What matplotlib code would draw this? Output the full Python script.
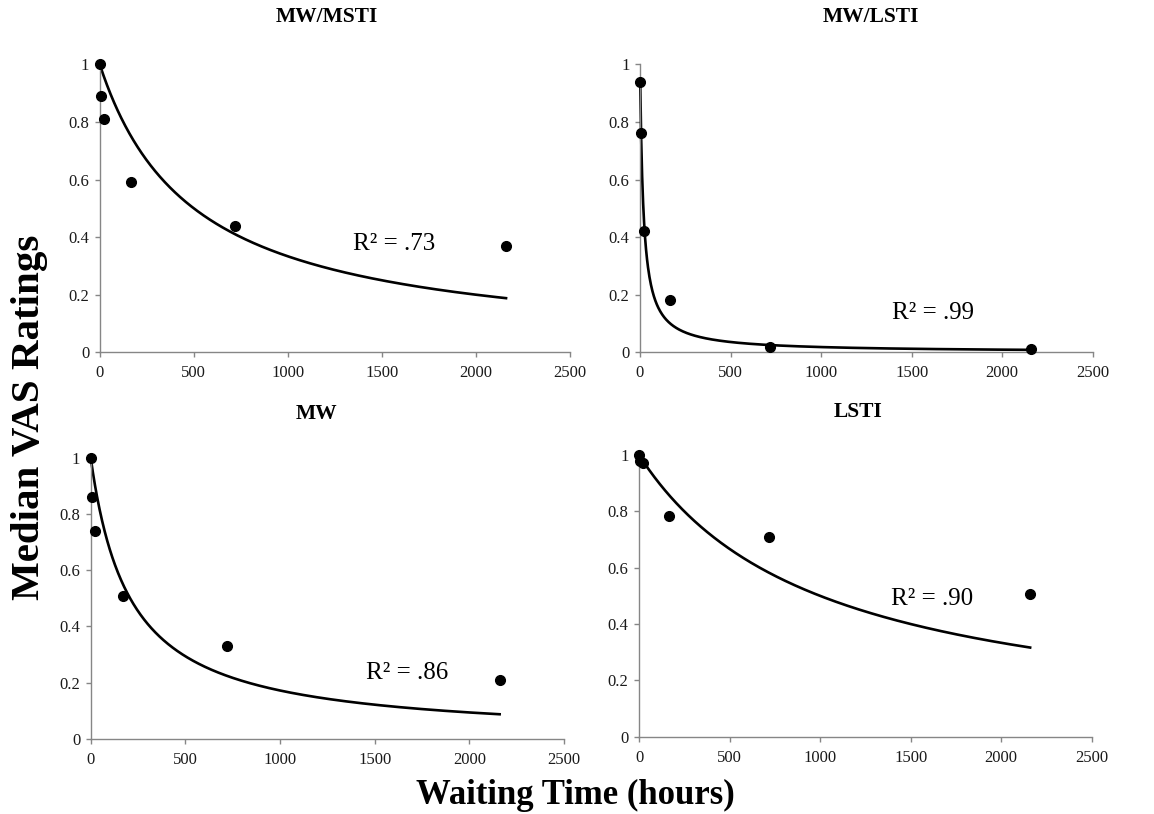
import numpy as np
import matplotlib
matplotlib.use("Agg")
import matplotlib.pyplot as plt
from matplotlib.ticker import FormatStrFormatter

plt.rcParams['font.family'] = ['Liberation Serif', 'DejaVu Serif']

# ---- data ----
delays = [1, 6, 24, 168, 720, 2160]  # hours
panel_titles = ["MW/MSTI", "MW/LSTI", "MW", "LSTI"]
mw_msti = [1.00, 0.89, 0.81, 0.59, 0.44, 0.37]
mw_lsti = [0.94, 0.76, 0.42, 0.18, 0.02, 0.01]
mw = [1.00, 0.86, 0.74, 0.51, 0.33, 0.21]
lsti = [1.00, 0.98, 0.97, 0.785, 0.71, 0.505]
# hyperbolic fit parameters (V = 1 / (1 + k * D))
k_values = [0.0020, 0.054, 0.0048, 0.00100]
r2_labels = ["R² = .73", "R² = .99", "R² = .86", "R² = .90"]
x_ticks = [0, 500, 1000, 1500, 2000, 2500]
y_ticks = [0, 0.2, 0.4, 0.6, 0.8, 1.0]

series = [mw_msti, mw_lsti, mw, lsti]

W, H = 1154, 814
fig = plt.figure(figsize=(W / 100, H / 100), dpi=100)

# axes boxes in pixels: (x0, x1, ytop, ybottom)
boxes = [(99.7, 570, 64.3, 352.3),
         (640, 1092.7, 64.3, 352.3),
         (90.7, 564, 457.7, 739),
         (639, 1091.7, 455, 736.7)]
title_pos = [(327, 17), (871, 17), (317, 414), (858, 412)]
r2_pos = [(1347, 0.376), (1392, 0.136), (1454, 0.235), (1392, 0.489)]

gray = "#868686"
for i in range(4):
    x0, x1, yt, yb = boxes[i]
    ax = fig.add_axes([x0 / W, (H - yb) / H, (x1 - x0) / W, (yb - yt) / H])
    xs = np.linspace(delays[0], delays[-1], 800)
    ax.plot(xs, 1.0 / (1.0 + k_values[i] * xs), color="black", lw=1.9, zorder=2,
            clip_on=False)
    ax.plot(delays, series[i], 'o', color="black", ms=7, zorder=3, clip_on=False)
    ax.set_xlim(0, 2500)
    ax.set_ylim(0, 1)
    ax.set_xticks(x_ticks)
    ax.set_yticks(y_ticks)
    ax.yaxis.set_major_formatter(FormatStrFormatter('%g'))
    for s in ["top", "right"]:
        ax.spines[s].set_visible(False)
    for s in ["left", "bottom"]:
        ax.spines[s].set_color(gray)
        ax.spines[s].set_linewidth(1.0)
    ax.tick_params(axis='both', direction='out', length=3.5, width=1.0, color=gray,
                   labelsize=12, labelcolor="#1a1a1a")
    ax.tick_params(axis='x', pad=6)
    ax.tick_params(axis='y', pad=4)
    ax.text(r2_pos[i][0], r2_pos[i][1], r2_labels[i], fontsize=18,
            ha='left', va='center', color="black")
    tx, ty = title_pos[i]
    fig.text(tx / W, 1 - ty / H, panel_titles[i], fontsize=15.5, fontweight='bold',
             ha='center', va='center')

fig.text(30 / W, 1 - 417 / H, "Median VAS Ratings", rotation=90, fontsize=29.5,
         fontweight='bold', ha='center', va='center')
fig.text(575 / W, 1 - 795 / H, "Waiting Time (hours)", fontsize=25,
         fontweight='bold', ha='center', va='center')

fig.savefig("out.png", dpi=100)
